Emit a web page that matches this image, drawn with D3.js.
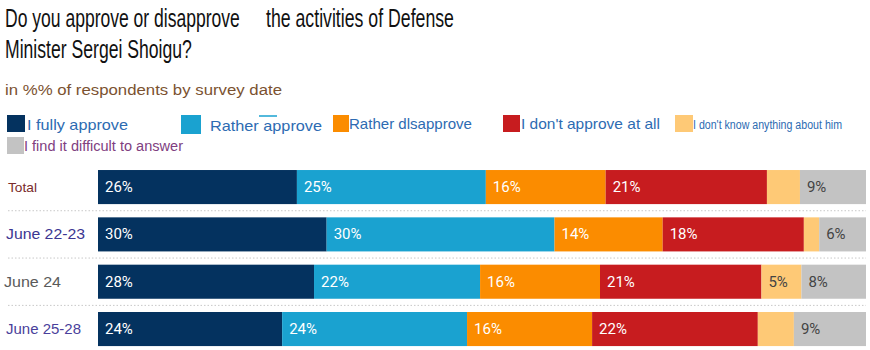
<!DOCTYPE html>
<html>
<head>
<meta charset="utf-8">
<script src="https://cdn.jsdelivr.net/npm/d3@7"></script>
<style>
  body { margin: 0; background: #fff; }
  svg { display: block; font-family: "Liberation Sans", Arial, sans-serif; }
</style>
</head>
<body>
<svg id="chart" width="870" height="350"></svg>
<script>
// answer categories (stack order, left to right)
const categories = [
  "I fully approve",
  "Rather approve",
  "Rather dlsapprove",
  "I don't approve at all",
  "I don't know anything about him",
  "I find it difficult to answer"
];
const colors = ["#04325f", "#1aa2d0", "#fb8c00", "#c71c1f", "#fec976", "#c3c3c3"];

// survey dates (rows)
const rows = ["Total", "June 22-23", "June 24", "June 25-28"];

// shares per category, one value per row
const fullyApprove     = [25.9, 29.8, 28.1, 24.0];
const ratherApprove    = [24.6, 29.7, 21.6, 24.1];
const ratherDisapprove = [15.6, 14.1, 15.6, 16.3];
const notAtAll         = [21.0, 18.4, 21.0, 21.6];
const dontKnow         = [4.3, 2.0, 5.2, 4.7];
const difficult        = [8.6, 6.1, 8.4, 9.4];

const series = [fullyApprove, ratherApprove, ratherDisapprove, notAtAll, dontKnow, difficult];

const table = rows.map((r, i) => {
  const o = { row: r };
  categories.forEach((c, k) => o[c] = series[k][i]);
  return o;
});

const svg = d3.select("#chart");

// squeeze a text horizontally to a given width (title font is condensed)
function condensed(g, str, x, y, w, size) {
  const t = g.append("text").attr("font-size", size).text(str);
  const k = w / t.node().getComputedTextLength();
  t.attr("transform", `translate(${x},${y}) scale(${k},1)`);
  return t;
}

// title
const title = svg.append("g").attr("fill", "#111");
condensed(title, "Do you approve or disapprove", 5, 27, 235, 25);
condensed(title, "the activities of Defense", 266, 27, 188, 25);
condensed(title, "Minister Sergei Shoigu?", 5, 58, 187, 25);

svg.append("text").attr("x", 5).attr("y", 95)
  .attr("font-size", 14).attr("fill", "#7b5230")
  .attr("textLength", 277).attr("lengthAdjust", "spacingAndGlyphs")
  .text("in %% of respondents by survey date");

// legend layout
const legendItems = [
  { sx: 7,   sy: 115, sw: 18, sh: 17, tx: 27,  ty: 130, tl: 101, fs: 15, fill: "#2d6bb2" },
  { sx: 181, sy: 115, sw: 20, sh: 19, tx: 210, ty: 131, tl: 112, fs: 15, fill: "#2d6bb2" },
  { sx: 333, sy: 115, sw: 16, sh: 17, tx: 349, ty: 129, tl: 123, fs: 15, fill: "#2d6bb2" },
  { sx: 503, sy: 115, sw: 17, sh: 17, tx: 521, ty: 129, tl: 139, fs: 15, fill: "#2d6bb2" },
  { sx: 675, sy: 115, sw: 18, sh: 17, tx: 693, ty: 129, tl: 149, fs: 12, fill: "#2d6bb2" },
  { sx: 7,   sy: 137, sw: 17, sh: 17, tx: 24,  ty: 151, tl: 159, fs: 14, fill: "#80407f" }
];
const legend = svg.append("g");
legendItems.forEach((l, i) => {
  legend.append("rect").attr("x", l.sx).attr("y", l.sy)
    .attr("width", l.sw).attr("height", l.sh).attr("fill", colors[i]);
  legend.append("text").attr("x", l.tx).attr("y", l.ty)
    .attr("font-size", l.fs).attr("fill", l.fill)
    .attr("textLength", l.tl).attr("lengthAdjust", "spacingAndGlyphs")
    .text(categories[i]);
});
legend.append("line").attr("x1", 259).attr("x2", 277).attr("y1", 116).attr("y2", 116)
  .attr("stroke", "#1aa2d0").attr("stroke-width", 1.5);

// scales
const x = d3.scaleLinear().domain([0, 1]).range([98, 866]);
const y = d3.scaleBand().domain(rows).range([163.4, 352.7])
  .paddingInner(0.28).paddingOuter(0.14);

const stack = d3.stack().keys(categories).offset(d3.stackOffsetExpand);
const stacked = stack(table);

// dotted separators
svg.append("g").selectAll("line")
  .data(rows.slice(1))
  .join("line")
  .attr("x1", 8).attr("x2", 866)
  .attr("y1", d => y(d) - (y.step() - y.bandwidth()) / 2)
  .attr("y2", d => y(d) - (y.step() - y.bandwidth()) / 2)
  .attr("stroke", "#c8c8c8").attr("stroke-dasharray", "1.5,2");

// bars
const layers = svg.append("g").selectAll("g")
  .data(stacked)
  .join("g")
  .attr("fill", (d, i) => colors[i]);

layers.selectAll("rect")
  .data(d => d)
  .join("rect")
  .attr("x", d => x(d[0]))
  .attr("y", d => y(d.data.row))
  .attr("width", d => x(d[1]) - x(d[0]))
  .attr("height", y.bandwidth());

// value labels
layers.each(function (layer, i) {
  d3.select(this).selectAll("text")
    .data(layer.filter(d => d.data[layer.key] >= 5))
    .join("text")
    .attr("x", d => x(d[0]) + 7)
    .attr("y", d => y(d.data.row) + y.bandwidth() / 2 + 5)
    .attr("font-family", "Roboto, sans-serif")
    .attr("font-size", 15)
    .attr("fill", i < 4 ? "#fff" : "#444")
    .text(d => Math.round(d.data[layer.key]) + "%");
});

// row labels
const rowStyle = {
  "Total":      { x: 8, fs: 13, fill: "#7a2b2b", tl: 29 },
  "June 22-23": { x: 6, fs: 15, fill: "#3c3692", tl: 79 },
  "June 24":    { x: 4, fs: 15, fill: "#5a5a5a", tl: 57 },
  "June 25-28": { x: 6, fs: 15, fill: "#4a3f9b", tl: 75 }
};
svg.append("g").selectAll("text")
  .data(rows)
  .join("text")
  .attr("x", d => rowStyle[d].x)
  .attr("y", d => y(d) + y.bandwidth() / 2 + 5)
  .attr("font-size", d => rowStyle[d].fs)
  .attr("fill", d => rowStyle[d].fill)
  .attr("textLength", d => rowStyle[d].tl)
  .attr("lengthAdjust", "spacingAndGlyphs")
  .text(d => d);
</script>
</body>
</html>
